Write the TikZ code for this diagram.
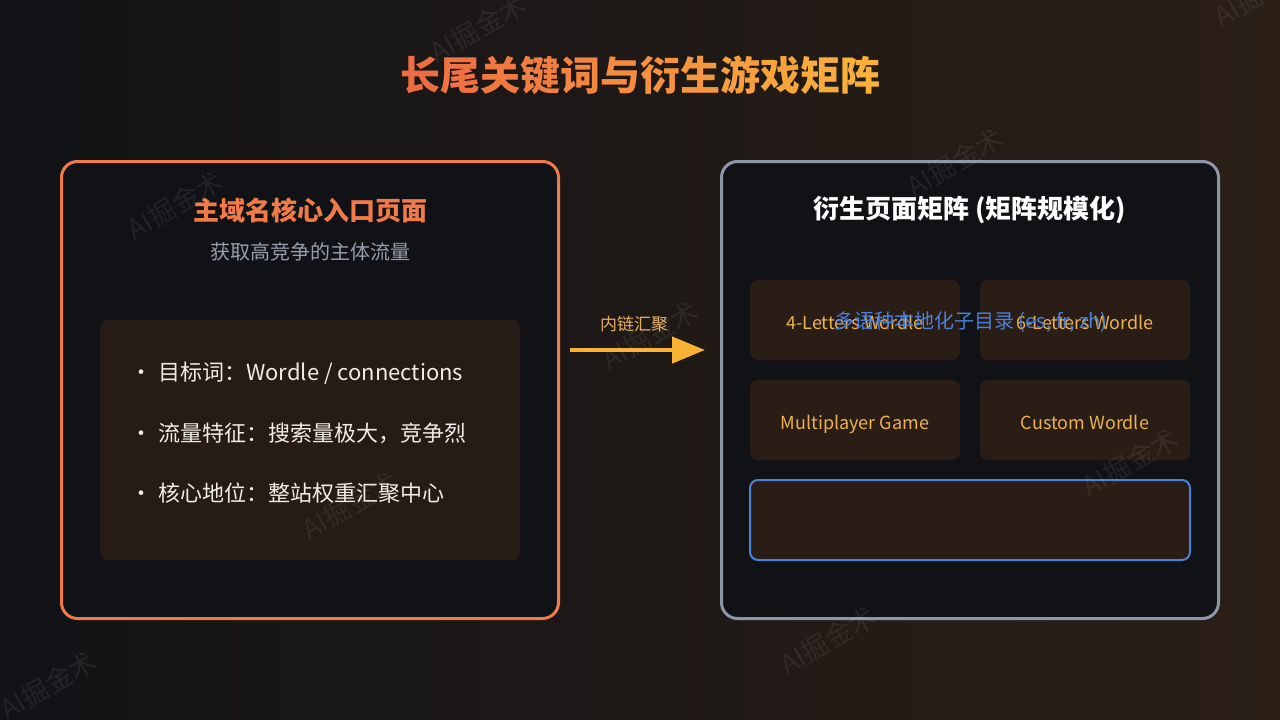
\documentclass[tikz,border=0pt]{standalone}
\usepackage{fontspec}
\setmainfont{Noto Sans CJK SC}
\usetikzlibrary{arrows.meta}
\definecolor{bgl}{RGB}{18,19,23}
\definecolor{bgr}{RGB}{43,31,22}
\definecolor{panel}{RGB}{17,18,22}
\definecolor{inner}{RGB}{38,27,21}
\definecolor{cellc}{RGB}{42,29,21}
\definecolor{orng}{RGB}{240,122,72}
\definecolor{graybd}{RGB}{140,150,168}
\definecolor{gold}{RGB}{236,178,80}
\definecolor{arrowc}{RGB}{250,178,50}
\definecolor{blueb}{RGB}{74,128,216}
\definecolor{subg}{RGB}{150,158,170}
\definecolor{bulc}{RGB}{240,236,232}
\definecolor{lblc}{RGB}{228,176,96}
\definecolor{tl}{RGB}{238,108,66}
\definecolor{tr}{RGB}{250,176,60}
\newcommand{\tc}[2]{\textcolor{tr!#1!tl}{#2}}
\begin{document}
\begin{tikzpicture}[x=1pt,y=-1pt,
  panelbox/.style={rounded corners=16pt, line width=3pt, fill=panel, minimum width=497pt, minimum height=457pt, inner sep=0pt},
  innerbox/.style={rounded corners=8pt, fill=inner, minimum width=420pt, minimum height=240pt, inner sep=0pt},
  cellbox/.style={rounded corners=8pt, fill=cellc, minimum width=210pt, minimum height=80pt, inner sep=0pt, text=gold, font=\fontsize{18}{22}\selectfont, text height=21pt, text depth=2pt},
  bullet/.style={anchor=west, text=bulc, font=\fontsize{22}{26}\selectfont, inner sep=0pt},
  wm/.style={rotate=30, text=white, opacity=0.07, font=\fontsize{27}{30}\selectfont}
]
\useasboundingbox (0,0) rectangle (1280,720);
\shade[left color=bgl, right color=bgr] (0,0) rectangle (1280,720);

% title
\node (title) at (640,75) {\fontsize{40}{48}\selectfont\bfseries
  \tc{0}{长}\tc{9}{尾}\tc{18}{关}\tc{27}{键}\tc{36}{词}\tc{45}{与}\tc{55}{衍}\tc{64}{生}\tc{73}{游}\tc{82}{戏}\tc{91}{矩}\tc{100}{阵}};

% left panel
\node[panelbox, draw=orng] (left) at (310,390) {};
\node[text=orng, font=\fontsize{26}{30}\selectfont\bfseries] (lhead) at (310,210) {主域名核心入口页面};
\node[text=subg, font=\fontsize{20}{24}\selectfont] (lsub) at (310,252) {获取高竞争的主体流量};
\node[innerbox] (lin) at (310,440) {};
\node[bullet] (b1) at (130,373) {\makebox[28pt][l]{・}目标词：Wordle / connections};
\node[bullet] (b2) at (130,433) {\makebox[28pt][l]{・}流量特征：搜索量极大，竞争烈};
\node[bullet] (b3) at (130,493) {\makebox[28pt][l]{・}核心地位：整站权重汇聚中心};

% arrow
\coordinate (arrS) at (570,350);
\coordinate (arrE) at (705,350);
\draw[line width=4.5pt, arrowc, -{Triangle[length=33pt,width=26pt]}] (arrS) -- (arrE);
\node[text=lblc, font=\fontsize{17}{20}\selectfont] (alab) at (634,324) {内链汇聚};

% right panel
\node[panelbox, draw=graybd] (right) at (970,390) {};
\node[text=white, font=\fontsize{26}{30}\selectfont\bfseries] (rhead) at (970,210) {衍生页面矩阵 (矩阵规模化)};
\node[cellbox] (c1) at (855,320) {4-Letters Wordle};
\node[cellbox] (c2) at (1085,320) {6-Letters Wordle};
\node[cellbox] (c3) at (855,420) {Multiplayer Game};
\node[cellbox] (c4) at (1085,420) {Custom Wordle};
\node[rounded corners=8pt, fill=cellc, draw=blueb, line width=2pt, minimum width=440pt, minimum height=80pt, inner sep=0pt] (c5) at (970,520) {};
\node[text=blueb, font=\fontsize{20}{24}\selectfont] (c5t) at (971,322) {多语种本地化子目录 (es, fr, zh)};

% watermarks
\foreach \i/\x/\y in {1/175/205, 2/478/28, 3/48/685, 4/350/505, 5/650/335, 6/955/162, 7/1262/-8, 8/828/640, 9/1130/462}
  \node[wm] (wm\i) at (\x,\y) {AI掘金术};
\end{tikzpicture}
\end{document}
